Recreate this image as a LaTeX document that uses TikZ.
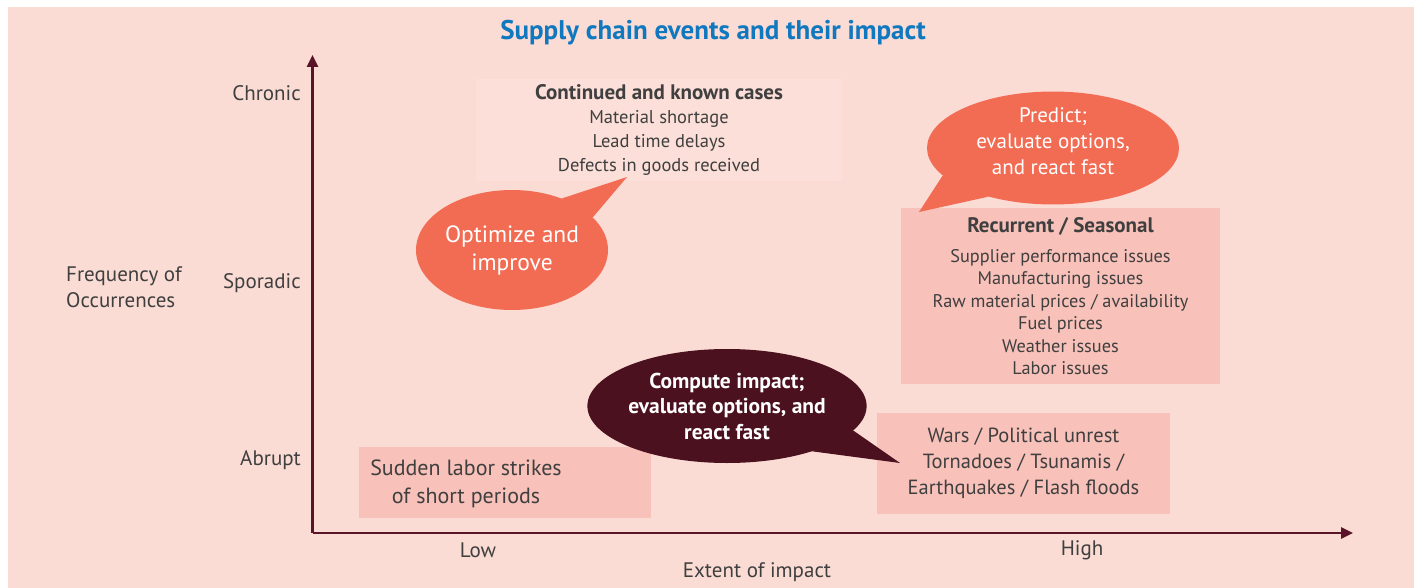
\documentclass[tikz,border=0pt]{standalone}
\usepackage{fontspec}
\setmainfont{PT Sans}
\usetikzlibrary{arrows.meta, shapes.geometric}

\definecolor{bgpink}{HTML}{FBDCD5}
\definecolor{boxpink}{HTML}{F8C1B9}
\definecolor{palebox}{HTML}{FCDFD8}
\definecolor{bubbleorange}{HTML}{F26C53}
\definecolor{bubbledark}{HTML}{4B111F}
\definecolor{axiscol}{HTML}{5A1428}
\definecolor{txtgray}{HTML}{3F3F3F}
\definecolor{titleblue}{HTML}{0F78BF}

\tikzset{
  axislbl/.style={text=txtgray, inner sep=0pt, font=\fontsize{21}{26}\selectfont},
  casebox/.style={fill=boxpink, inner sep=0pt, text=txtgray, align=center},
  bubble/.style={ellipse, fill=bubbleorange, inner sep=0pt, text=white, align=center},
}

\begin{document}
\begin{tikzpicture}[x=1pt, y=-1pt]
      \useasboundingbox (0,0) rectangle (1418,588);
      \fill[bgpink] (8,7) rectangle (1414,588);

      \node[text=titleblue, inner sep=0pt, font=\bfseries\fontsize{27}{30}\selectfont] (title) at (713,33) {Supply chain events and their impact};

      % axes
      \coordinate (origin) at (312.5,533);
      \coordinate (ytop) at (312.5,55);
      \coordinate (xend) at (1353,533);
      \draw[axiscol, line width=2.6pt, -{Triangle[length=12pt, width=11pt]}] (origin) -- (ytop);
      \draw[axiscol, line width=2.6pt, -{Triangle[length=12pt, width=11pt]}] (origin) -- (xend);

      \node[axislbl, anchor=east] (chronic) at (301,93) {Chronic};
      \node[axislbl, anchor=east] (sporadic) at (301,283) {Sporadic};
      \node[axislbl, anchor=east] (abrupt) at (301,460) {Abrupt};
      \node[axislbl, anchor=west, align=left] (freq) at (66,287) {Frequency of\\Occurrences};
      \node[axislbl] (low) at (478,550) {Low};
      \node[axislbl] (high) at (1082,550) {High};
      \node[axislbl] (extent) at (757,572) {Extent of impact};

      % boxes
      \node[casebox, fill=palebox, minimum width=366pt, minimum height=102pt, font=\fontsize{18.5}{24}\selectfont] (known) at (659,130)
        {{\bfseries\fontsize{21}{24}\selectfont Continued and known cases}\\Material shortage\\Lead time delays\\Defects in goods received};
      \node[casebox, minimum width=319pt, minimum height=176pt, font=\fontsize{18.3}{22.4}\selectfont] (seasonal) at (1060.5,296)
        {{\bfseries\fontsize{21}{24}\selectfont Recurrent / Seasonal}\\[8pt]Supplier performance issues\\Manufacturing issues\\Raw material prices / availability\\Fuel prices\\Weather issues\\Labor issues};
      \node[casebox, minimum width=293pt, minimum height=101pt, font=\fontsize{20.5}{26}\selectfont] (disaster) at (1023.5,463.5)
        {Wars / Political unrest\\Tornadoes / Tsunamis /\\Earthquakes / Flash floods};
      \node[casebox, minimum width=292pt, minimum height=71pt] (strikes) at (505,482.5) {};
      \node[casebox, fill=none, font=\fontsize{22}{28}\selectfont] (strikestext) at (466,484)
        {Sudden labor strikes\\of short periods};

      % bubbles
      \node[bubble, minimum width=192pt, minimum height=120pt, font=\fontsize{23.5}{28}\selectfont] (optimize) at (512,250)
        {Optimize and\\improve};
      \coordinate (optimizetip) at (627,177);
      \fill[bubbleorange] (optimize.46) -- (optimizetip) -- (optimize.22) -- cycle;

      \node[bubble, minimum width=252pt, minimum height=112pt, text depth=13pt, font=\fontsize{21}{26}\selectfont] (predict) at (1053,148)
        {Predict;\\evaluate options,\\and react fast};
      \coordinate (predicttip) at (919,212);
      \fill[bubbleorange] (predict.194) -- (predicttip) -- (predict.217) -- cycle;

      \node[bubble, fill=bubbledark, minimum width=266pt, minimum height=114pt, font=\bfseries\fontsize{21.5}{25.5}\selectfont] (compute) at (727,406)
        {Compute impact;\\evaluate options, and\\react fast};
      \coordinate (computetip) at (900,463);
      \fill[bubbledark] (compute.-11) -- (computetip) -- (compute.-28) -- cycle;
    \end{tikzpicture}
\end{document}
